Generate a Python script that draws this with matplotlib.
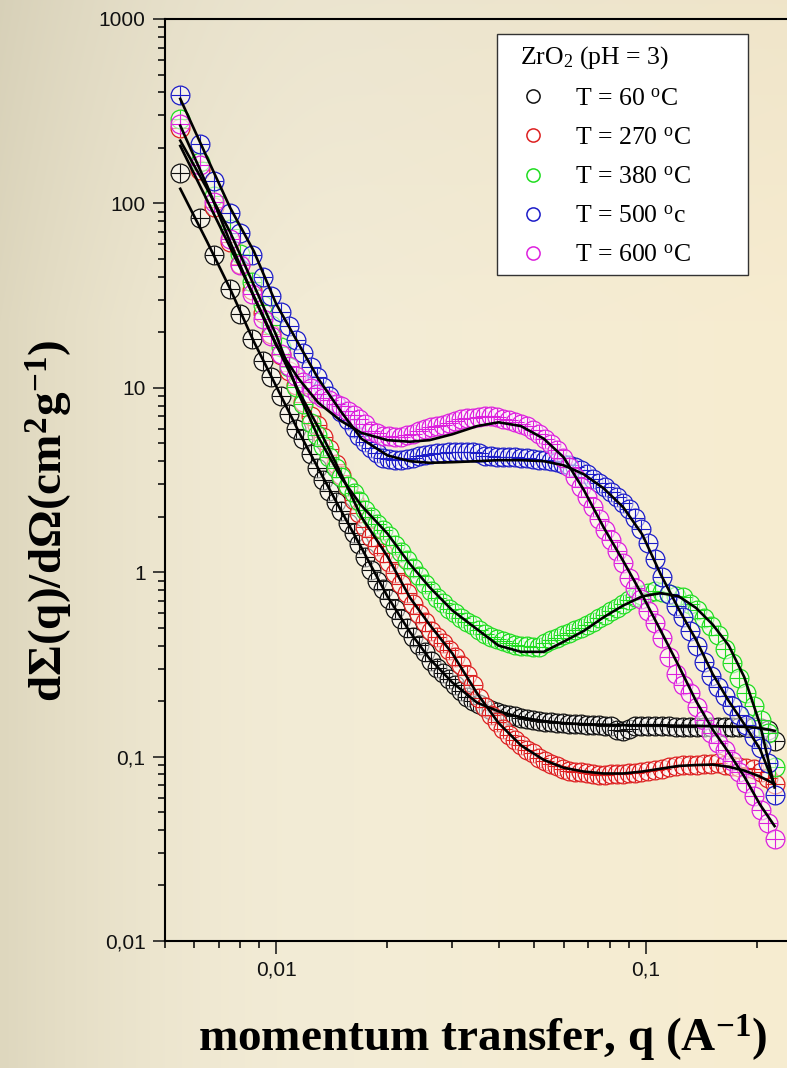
import numpy as np
import matplotlib
matplotlib.use("Agg")
import matplotlib.pyplot as plt
from matplotlib.ticker import FixedLocator, LogLocator, FuncFormatter, NullFormatter
from matplotlib.lines import Line2D
from matplotlib.patches import Rectangle

plt.rcParams['mathtext.fontset'] = 'custom'
plt.rcParams['mathtext.rm'] = 'Liberation Serif'
plt.rcParams['mathtext.it'] = 'Liberation Serif:italic'
plt.rcParams['mathtext.bf'] = 'Liberation Serif:bold'

# ---------------- data ----------------
q = [0.0055, 0.0062, 0.0068, 0.0075, 0.0080, 0.0086, 0.0092, 0.0097, 0.0103, 0.0108,
     0.0113, 0.0118, 0.0124, 0.0129, 0.0134, 0.0139, 0.0145,
     0.0150, 0.0156, 0.0162, 0.0168, 0.0174, 0.0181, 0.0188, 0.0195, 0.0202, 0.0210,
     0.0218, 0.0226, 0.0235, 0.0244, 0.0253, 0.0263, 0.0273, 0.0283, 0.0294, 0.0305,
     0.0317, 0.0329, 0.0341, 0.0354, 0.0368, 0.0382, 0.0396, 0.0411, 0.0427, 0.0443,
     0.0460, 0.0478, 0.0496, 0.0515, 0.0535, 0.0555, 0.0576, 0.0598, 0.0621, 0.0645,
     0.0670, 0.0695, 0.0722, 0.0749, 0.0778, 0.0807, 0.0838, 0.0870, 0.0903, 0.0938,
     0.0973, 0.1017, 0.1062, 0.1110, 0.1159, 0.1211, 0.1265, 0.1322, 0.1381, 0.1443,
     0.1507, 0.1575, 0.1645, 0.1719, 0.1796, 0.1876, 0.1960, 0.2048, 0.2139, 0.2235]

y60 = [147, 83, 52.7, 34.5, 25.2, 18.5, 13.9, 11.5, 9.0, 7.2, 6.0, 5.3, 4.4, 3.67, 3.18, 2.75, 2.39,
       2.14, 1.85, 1.63, 1.43, 1.21, 1.03, 0.90, 0.81, 0.72, 0.63,
       0.56, 0.50, 0.446, 0.403, 0.367, 0.332, 0.304, 0.284, 0.263, 0.244,
       0.226, 0.210, 0.199, 0.193, 0.186, 0.180, 0.175, 0.170, 0.168, 0.165,
       0.162, 0.160, 0.157, 0.156, 0.155, 0.154, 0.153, 0.152, 0.151, 0.150,
       0.150, 0.149, 0.149, 0.148, 0.147, 0.146, 0.140, 0.138, 0.142, 0.146,
       0.146, 0.146, 0.147, 0.146, 0.146, 0.145, 0.145, 0.145, 0.145, 0.145,
       0.145, 0.145, 0.145, 0.145, 0.144, 0.144, 0.144, 0.143, 0.140, 0.122]

y270 = [257, 152, 95.9, 62.0, 47.1, 33.8, 25.6, 19.7, 15.0, 12.3, 10.3, 8.42, 7.02, 6.28, 5.44, 4.67, 3.88,
        3.38, 2.89, 2.47, 2.10, 1.76, 1.55, 1.38, 1.27, 1.13, 0.986,
        0.868, 0.768, 0.672, 0.597, 0.536, 0.482, 0.443, 0.412, 0.379, 0.348,
        0.314, 0.277, 0.243, 0.209, 0.186, 0.169, 0.155, 0.142, 0.131, 0.123,
        0.115, 0.109, 0.104, 0.0988, 0.0944, 0.0917, 0.0888, 0.0861, 0.0839, 0.0830,
        0.0820, 0.0811, 0.0803, 0.0795, 0.0796, 0.0800, 0.0803, 0.0807, 0.0810, 0.0815,
        0.0825, 0.0839, 0.0850, 0.0861, 0.0873, 0.0884, 0.0896, 0.0901, 0.0905, 0.0910,
        0.0914, 0.0918, 0.0905, 0.0893, 0.0880, 0.0868, 0.0852, 0.0820, 0.0768, 0.0708]

y380 = [288, 168, 109, 72.9, 53.0, 37.4, 28.2, 22.0, 16.7, 12.9, 10.1, 8.13, 6.45, 5.52, 4.81, 4.24, 3.67,
        3.28, 2.94, 2.69, 2.43, 2.17, 1.98, 1.83, 1.70, 1.57, 1.41,
        1.28, 1.16, 1.05, 0.950, 0.859, 0.786, 0.729, 0.679, 0.632, 0.598,
        0.564, 0.539, 0.515, 0.486, 0.461, 0.447, 0.434, 0.423, 0.413, 0.404,
        0.399, 0.396, 0.393, 0.395, 0.412, 0.427, 0.441, 0.455, 0.469, 0.483,
        0.497, 0.515, 0.539, 0.562, 0.588, 0.614, 0.642, 0.673, 0.705, 0.733,
        0.749, 0.769, 0.788, 0.783, 0.765, 0.747, 0.730, 0.673, 0.621, 0.565,
        0.510, 0.456, 0.383, 0.322, 0.268, 0.222, 0.188, 0.158, 0.134, 0.088]

y500 = [388, 211, 133, 88.3, 68.8, 52.8, 39.8, 31.5, 25.7, 21.6, 18.2, 15.5, 13.0, 11.4, 10.05, 9.03, 8.06,
        7.40, 6.68, 6.04, 5.46, 5.06, 4.69, 4.43, 4.18, 4.12, 4.05,
        4.07, 4.12, 4.18, 4.26, 4.33, 4.40, 4.42, 4.44, 4.47, 4.47,
        4.47, 4.47, 4.47, 4.41, 4.28, 4.26, 4.24, 4.23, 4.21, 4.19,
        4.17, 4.14, 4.11, 4.08, 4.06, 4.02, 3.95, 3.87, 3.80, 3.72,
        3.57, 3.40, 3.22, 3.06, 2.88, 2.71, 2.55, 2.37, 2.20, 1.96,
        1.72, 1.44, 1.18, 0.944, 0.762, 0.653, 0.571, 0.479, 0.398, 0.326,
        0.274, 0.239, 0.213, 0.189, 0.168, 0.148, 0.128, 0.111, 0.0928, 0.062]

y600 = [270, 162, 102, 64.5, 46.5, 32.1, 23.7, 19.1, 15.3, 13.2, 11.6, 10.8, 9.96, 9.21, 8.75, 8.56, 8.21,
        7.92, 7.51, 7.12, 6.80, 6.33, 5.83, 5.66, 5.51, 5.45, 5.39,
        5.44, 5.53, 5.65, 5.80, 5.95, 6.10, 6.21, 6.32, 6.42, 6.59,
        6.75, 6.83, 6.85, 6.91, 7.00, 7.02, 6.92, 6.80, 6.67, 6.51,
        6.34, 6.18, 5.94, 5.61, 5.29, 4.95, 4.59, 4.18, 3.72, 3.30,
        2.90, 2.56, 2.25, 1.95, 1.69, 1.50, 1.31, 1.12, 0.935, 0.816,
        0.720, 0.618, 0.532, 0.438, 0.346, 0.279, 0.246, 0.221, 0.186, 0.157,
        0.134, 0.119, 0.108, 0.0949, 0.0829, 0.0717, 0.0612, 0.0512, 0.0437, 0.0357]

# fitted curves
q_fit = [0.0055, 0.0065, 0.0075, 0.0087, 0.010, 0.0115, 0.013, 0.015, 0.017, 0.020,
         0.023, 0.026, 0.030, 0.035, 0.040, 0.046, 0.053, 0.060, 0.068, 0.077,
         0.087, 0.098, 0.110, 0.123, 0.137, 0.152, 0.168, 0.185, 0.204, 0.2235]
fit60 = [120, 62, 34.5, 17.8, 10.2, 5.8, 3.65, 2.15, 1.36, 0.74,
         0.475, 0.34, 0.252, 0.196, 0.176, 0.163, 0.156, 0.152, 0.150, 0.149,
         0.148, 0.148, 0.148, 0.147, 0.147, 0.146, 0.146, 0.145, 0.143, 0.138]
fit270 = [205, 104, 58, 31.5, 17.2, 9.6, 6.1, 3.4, 2.0, 1.22,
          0.73, 0.52, 0.362, 0.22, 0.152, 0.115, 0.096, 0.087, 0.083, 0.081,
          0.081, 0.083, 0.086, 0.089, 0.090, 0.0905, 0.088, 0.084, 0.078, 0.071]
fit380 = [219, 120, 70, 36, 19.3, 9.3, 5.4, 3.25, 2.3, 1.62,
          1.11, 0.83, 0.62, 0.49, 0.40, 0.37, 0.37, 0.42, 0.48, 0.57,
          0.66, 0.74, 0.77, 0.74, 0.64, 0.52, 0.40, 0.27, 0.15, 0.068]
fit500 = [369, 177, 95, 55, 28.5, 17.3, 11.2, 7.4, 5.3, 4.3,
          4.0, 3.92, 3.95, 4.0, 4.05, 4.05, 4.0, 3.8, 3.4, 2.85,
          2.25, 1.6, 0.97, 0.63, 0.43, 0.28, 0.20, 0.15, 0.11, 0.07]
fit600 = [264, 125, 62, 31, 17.0, 11.2, 8.3, 6.6, 5.7, 5.2,
          5.1, 5.2, 5.6, 6.2, 6.5, 6.2, 5.3, 4.2, 2.8, 1.75,
          1.15, 0.75, 0.48, 0.31, 0.20, 0.14, 0.105, 0.078, 0.055, 0.042]

series_y = [y60, y270, y380, y500, y600]
series_fit = [fit60, fit270, fit380, fit500, fit600]
labels = ["T = 60 $^{\\mathrm{o}}$C", "T = 270 $^{\\mathrm{o}}$C", "T = 380 $^{\\mathrm{o}}$C",
          "T = 500 $^{\\mathrm{o}}$c", "T = 600 $^{\\mathrm{o}}$C"]
colors = ['#111111', '#dd2020', '#20dd20', '#1c1cc8', '#dd20dd']
legend_title = "ZrO$_2$ (pH = 3)"

# ---------------- figure ----------------
W, H = 787, 1068
fig = plt.figure(figsize=(W / 100, H / 100), dpi=100)

# background gradient
u = np.linspace(0, 1, W)[None, :, None]
v = np.linspace(0, 1, H)[:, None, None]
left_c = np.array([222, 215, 190]) / 255
mid_c = np.array([243, 236, 214]) / 255
right_c = np.array([247, 236, 208]) / 255
t = np.clip(u / 0.45, 0, 1)
t = t * (2 - t)
img = left_c + (mid_c - left_c) * t
img = img + (right_c - mid_c) * np.clip((u - 0.45) / 0.55, 0, 1)
img = img * (1 - 0.03 * (1 - np.clip(v / 0.3, 0, 1)))
img = np.clip(img, 0, 1)
bg = fig.add_axes([0, 0, 1, 1])
bg.imshow(img, aspect='auto', extent=[0, 1, 0, 1], interpolation='bilinear')
bg.axis('off')

ax_left = 165 / W
ax_bottom = 1 - 941 / H
ax_top = 1 - 19 / H
ax = fig.add_axes([ax_left, ax_bottom, 1 - ax_left, ax_top - ax_bottom])
ax.patch.set_alpha(0)
ax.set_xscale('log')
ax.set_yscale('log')
ax.set_xlim(0.005, 0.2415)
ax.set_ylim(0.01, 1000)

ms = 13.5
for ys, c in zip(series_y, colors):
    ax.plot(q, ys, ls='none', marker='o', ms=ms, mfc=(1, 1, 1, 0.55), mec=c, mew=0.9, zorder=2)
    ax.plot(q, ys, ls='none', marker='+', ms=ms * 0.95, mec=c, mew=0.8, zorder=2)
for fy in series_fit:
    ax.plot(q_fit, fy, color='black', lw=1.9, zorder=3)

# spines & ticks
ax.spines['right'].set_visible(False)
for s in ['left', 'bottom', 'top']:
    ax.spines[s].set_linewidth(1.5)
ax.xaxis.set_major_locator(FixedLocator([0.01, 0.1]))
ax.xaxis.set_minor_locator(LogLocator(base=10, subs=np.arange(2, 10)))
ax.yaxis.set_major_locator(LogLocator(base=10, numticks=12))
ax.yaxis.set_minor_locator(LogLocator(base=10, subs=np.arange(2, 10), numticks=12))
fmt = FuncFormatter(lambda val, pos: f"{val:g}".replace('.', ','))
ax.xaxis.set_major_formatter(fmt)
ax.yaxis.set_major_formatter(fmt)
ax.xaxis.set_minor_formatter(NullFormatter())
ax.yaxis.set_minor_formatter(NullFormatter())
ax.tick_params(which='major', direction='out', length=9, width=1.1, labelsize=15, pad=5,
               top=False, right=False, colors='#111111')
ax.tick_params(which='minor', direction='out', length=5, width=1.1, top=False, right=False)
for lab in ax.get_xticklabels() + ax.get_yticklabels():
    lab.set_fontfamily('Liberation Sans')

# axis labels
ax.set_xlabel("momentum transfer, q (A$^{\\mathbf{-1}}$)", fontsize=34,
              fontfamily='Liberation Serif', fontweight='bold')
ax.xaxis.set_label_coords((483 - 165) / (W - 165), (941 - 1052) / 922)
ax.xaxis.label.set_va('baseline')
ax.set_ylabel("d\u03a3(q)/d\u03a9(cm$^{\\mathbf{2}}$g$^{\\mathbf{-1}}$)", fontsize=34,
              fontfamily='Liberation Serif', fontweight='bold')
ax.yaxis.set_label_coords((50 - 165) / (W - 165), (941 - 521) / 922)
ax.yaxis.label.set_va('center')

# legend
rect = Rectangle((497 / W, 1 - 275 / H), (748 - 497) / W, (275 - 34) / H,
                 transform=fig.transFigure, facecolor='white', edgecolor='#333333',
                 lw=1.0, zorder=10)
fig.patches.append(rect)
handles = [Line2D([], [], ls='none', marker='o', ms=9.5, mfc='none', mec=c, mew=1.1)
           for c in colors]
leg = fig.legend(handles, labels, title=legend_title, loc='upper left',
                 bbox_to_anchor=(515 / W, 1 - 39 / H), bbox_transform=fig.transFigure,
                 frameon=False, prop={'family': 'Liberation Serif', 'size': 18.5},
                 title_fontproperties={'family': 'Liberation Serif', 'size': 18.5},
                 alignment='left', handlelength=1.0, handletextpad=1.14,
                 labelspacing=0.63, borderpad=0.2, borderaxespad=0.0)
leg.set_zorder(11)

fig.savefig('out.png', dpi=100)
